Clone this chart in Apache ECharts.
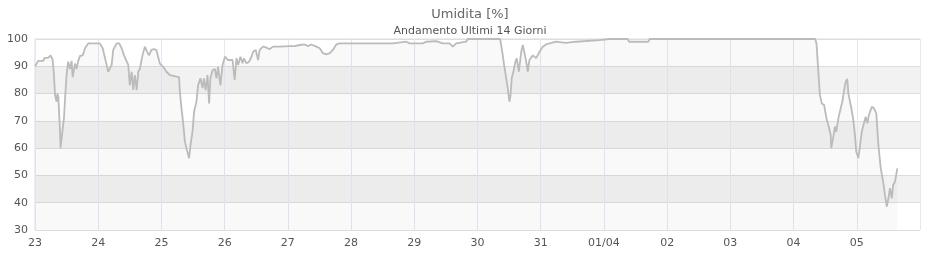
<!DOCTYPE html>
<html>
<head>
<meta charset="utf-8">
<script src="https://cdn.jsdelivr.net/npm/echarts@6/dist/echarts.min.js"></script>
<style>
html,body{margin:0;padding:0;background:#fff;}
#chart{width:940px;height:260px;}
</style>
</head>
<body>
<div id="chart"></div>
<script>
// Hours since 23/03 00:00
var hours = [
0,0.4,1.3,3.2,3.5,5.1,5.9,6.7,7.2,7.6,8.2,8.5,8.85,9.2,9.5,9.7,10.2,10.5,11.0,11.4,
12.0,12.6,13.3,13.9,14.3,15.2,15.8,16.4,17.1,18.1,19.0,20.2,23.4,24.6,25.7,26.9,27.8,28.4,29.1,29.7,
31.0,32.0,32.9,33.8,34.5,35.4,36.0,36.7,37.3,37.9,38.6,39.2,39.8,40.8,41.7,42.6,43.3,44.2,45.1,46.1,
47.4,48.7,49.9,51.2,53.7,54.7,55.0,55.6,56.2,56.9,57.5,58.1,58.5,59.0,59.8,60.4,61.3,61.9,62.8,63.6,
64.1,64.8,65.5,66.1,66.6,67.4,68.3,68.9,69.5,70.4,71.2,72.1,73.3,73.9,75.0,75.8,76.5,77.1,78.0,78.8,
79.3,80.3,81.3,82.2,82.8,83.8,84.7,85.3,86.6,87.9,89.1,90.4,92.9,96.7,97.3,98.6,100.5,102.4,103.6,104.9,
106.8,108.1,109.3,110.6,111.9,113.1,114.4,115.7,135.9,136.5,141,142.2,147.3,148.5,152.3,154.8,157.4,158.6,159.9,163.7,
164.3,176.6,177.4,178.2,178.9,179.5,180.1,180.5,181.0,181.6,182.4,182.9,183.7,184.6,185.2,185.8,186.5,187.1,187.7,189.0,
190.3,191.5,192.8,194.0,197.8,201.6,205.4,214.3,214.9,218.0,225.0,225.6,232.8,233.4,296.2,
296.7,297.0,297.4,298.0,298.7,299.6,300.5,301.2,302.1,302.3,303.0,303.7,304.2,305.0,305.9,306.5,307.2,307.8,308.4,308.8,
309.7,310.6,311.3,311.8,312.6,313.1,313.9,314.7,315.4,316.0,316.6,317.7,318.5,319.4,320.2,321.1,322.0,322.7,323.4,324.0,
324.6,325.3,325.8,326.5,327.4
];
var humidity = [
90,90.7,92,92,93,93.2,94,92.5,86.8,79.5,77,80,79,72,66,60,60,67,71,78,
87,91.7,89,92,86,91,89,92,93.8,94,96.6,98.4,98.4,98.4,96.6,91.7,88,87.4,90.5,96,
98.4,98.4,96.6,94,93.5,90.5,83,88,81.3,86.8,81.3,88,89,94,97.2,95.3,94,96,96.3,96,
91,89.8,88,86.8,86.2,86,80.7,74.7,69.7,62.4,60,60,56.3,61,66,73.4,77,83,85.6,82,
85.6,81.3,86.8,76.4,85.6,88.6,89,85.6,89.8,83,90.5,93.5,92.3,92.9,92.3,85,93,90.5,93.5,91.1,
92.9,91.1,91.7,93.5,95.3,96,92.3,96,97.2,96.8,96.3,97.2,97.2,97.4,98,97.4,97.8,98,97.4,98,
97.2,96.6,94.8,94.4,94.8,96,98,98.4,98.4,99,99,98.4,98.4,99,99.2,98.4,98.4,97.2,98.4,99,
100,100,95.3,89.9,85.6,81.9,77,79,85.6,88,91.7,92.9,88,95.3,97.8,97.2,91.7,88,92.3,94,
93,95.3,97.2,98,99,98.6,99,99.6,100,100,100,99,99,100,100,
98.4,94,88,79.5,76.4,75.8,70.9,68.5,64.8,60,63.6,67.9,66,70.9,74.6,77,81.3,84.4,85.3,80,
75.8,70.9,64.8,58.7,56.3,60,66,69.1,71.5,69.1,72.1,75.2,74.6,72.8,61.2,52.6,47.7,42.8,38.6,41.6,
45.3,41.6,46.5,47.7,52.6
];
var dayLabels = ['23','24','25','26','27','28','29','30','31','01/04','02','03','04','05','06'];
var titleText = 'Umidita [%]';
var subtitleText = 'Andamento Ultimi 14 Giorni';

var seriesData = hours.map(function (h, i) { return [h, humidity[i]]; });

var chart = echarts.init(document.getElementById('chart'), null, {renderer: 'canvas'});
chart.setOption({
  animation: false,
  backgroundColor: '#ffffff',
  textStyle: {fontFamily: 'DejaVu Sans'},
  title: {
    text: titleText,
    subtext: subtitleText,
    left: 'center',
    top: 3,
    itemGap: 5,
    textStyle: {fontSize: 13, fontWeight: 'normal', color: '#666666', fontFamily: 'DejaVu Sans'},
    subtextStyle: {fontSize: 11, color: '#555555', fontFamily: 'DejaVu Sans'}
  },
  grid: {
    left: 35, right: 20, top: 39, bottom: 30,
    show: true, borderColor: '#dcdcdc', borderWidth: 1, backgroundColor: 'transparent'
  },
  xAxis: {
    type: 'value',
    min: 0, max: 336, interval: 24,
    axisLine: {show: false},
    axisTick: {show: false},
    axisLabel: {
      color: '#555555', fontSize: 11, margin: 8, showMaxLabel: false,
      formatter: function (v) { return dayLabels[Math.round(v / 24)]; }
    },
    splitLine: {show: true, lineStyle: {color: '#e6e6f6', width: 1}}
  },
  yAxis: {
    type: 'value',
    min: 30, max: 100, interval: 10,
    axisLine: {show: false},
    axisTick: {show: false},
    axisLabel: {color: '#555555', fontSize: 11, margin: 7},
    splitLine: {show: true, lineStyle: {color: '#dddddd', width: 1}},
    splitArea: {show: true, areaStyle: {color: ['#ffffff', '#f2f2f2']}}
  },
  series: [{
    type: 'line',
    data: seriesData,
    showSymbol: false,
    symbol: 'none',
    lineStyle: {color: '#bbbbbb', width: 1.8},
    areaStyle: {color: 'rgba(0,0,0,0.03)'},
    z: 3
  }]
});
</script>
</body>
</html>
